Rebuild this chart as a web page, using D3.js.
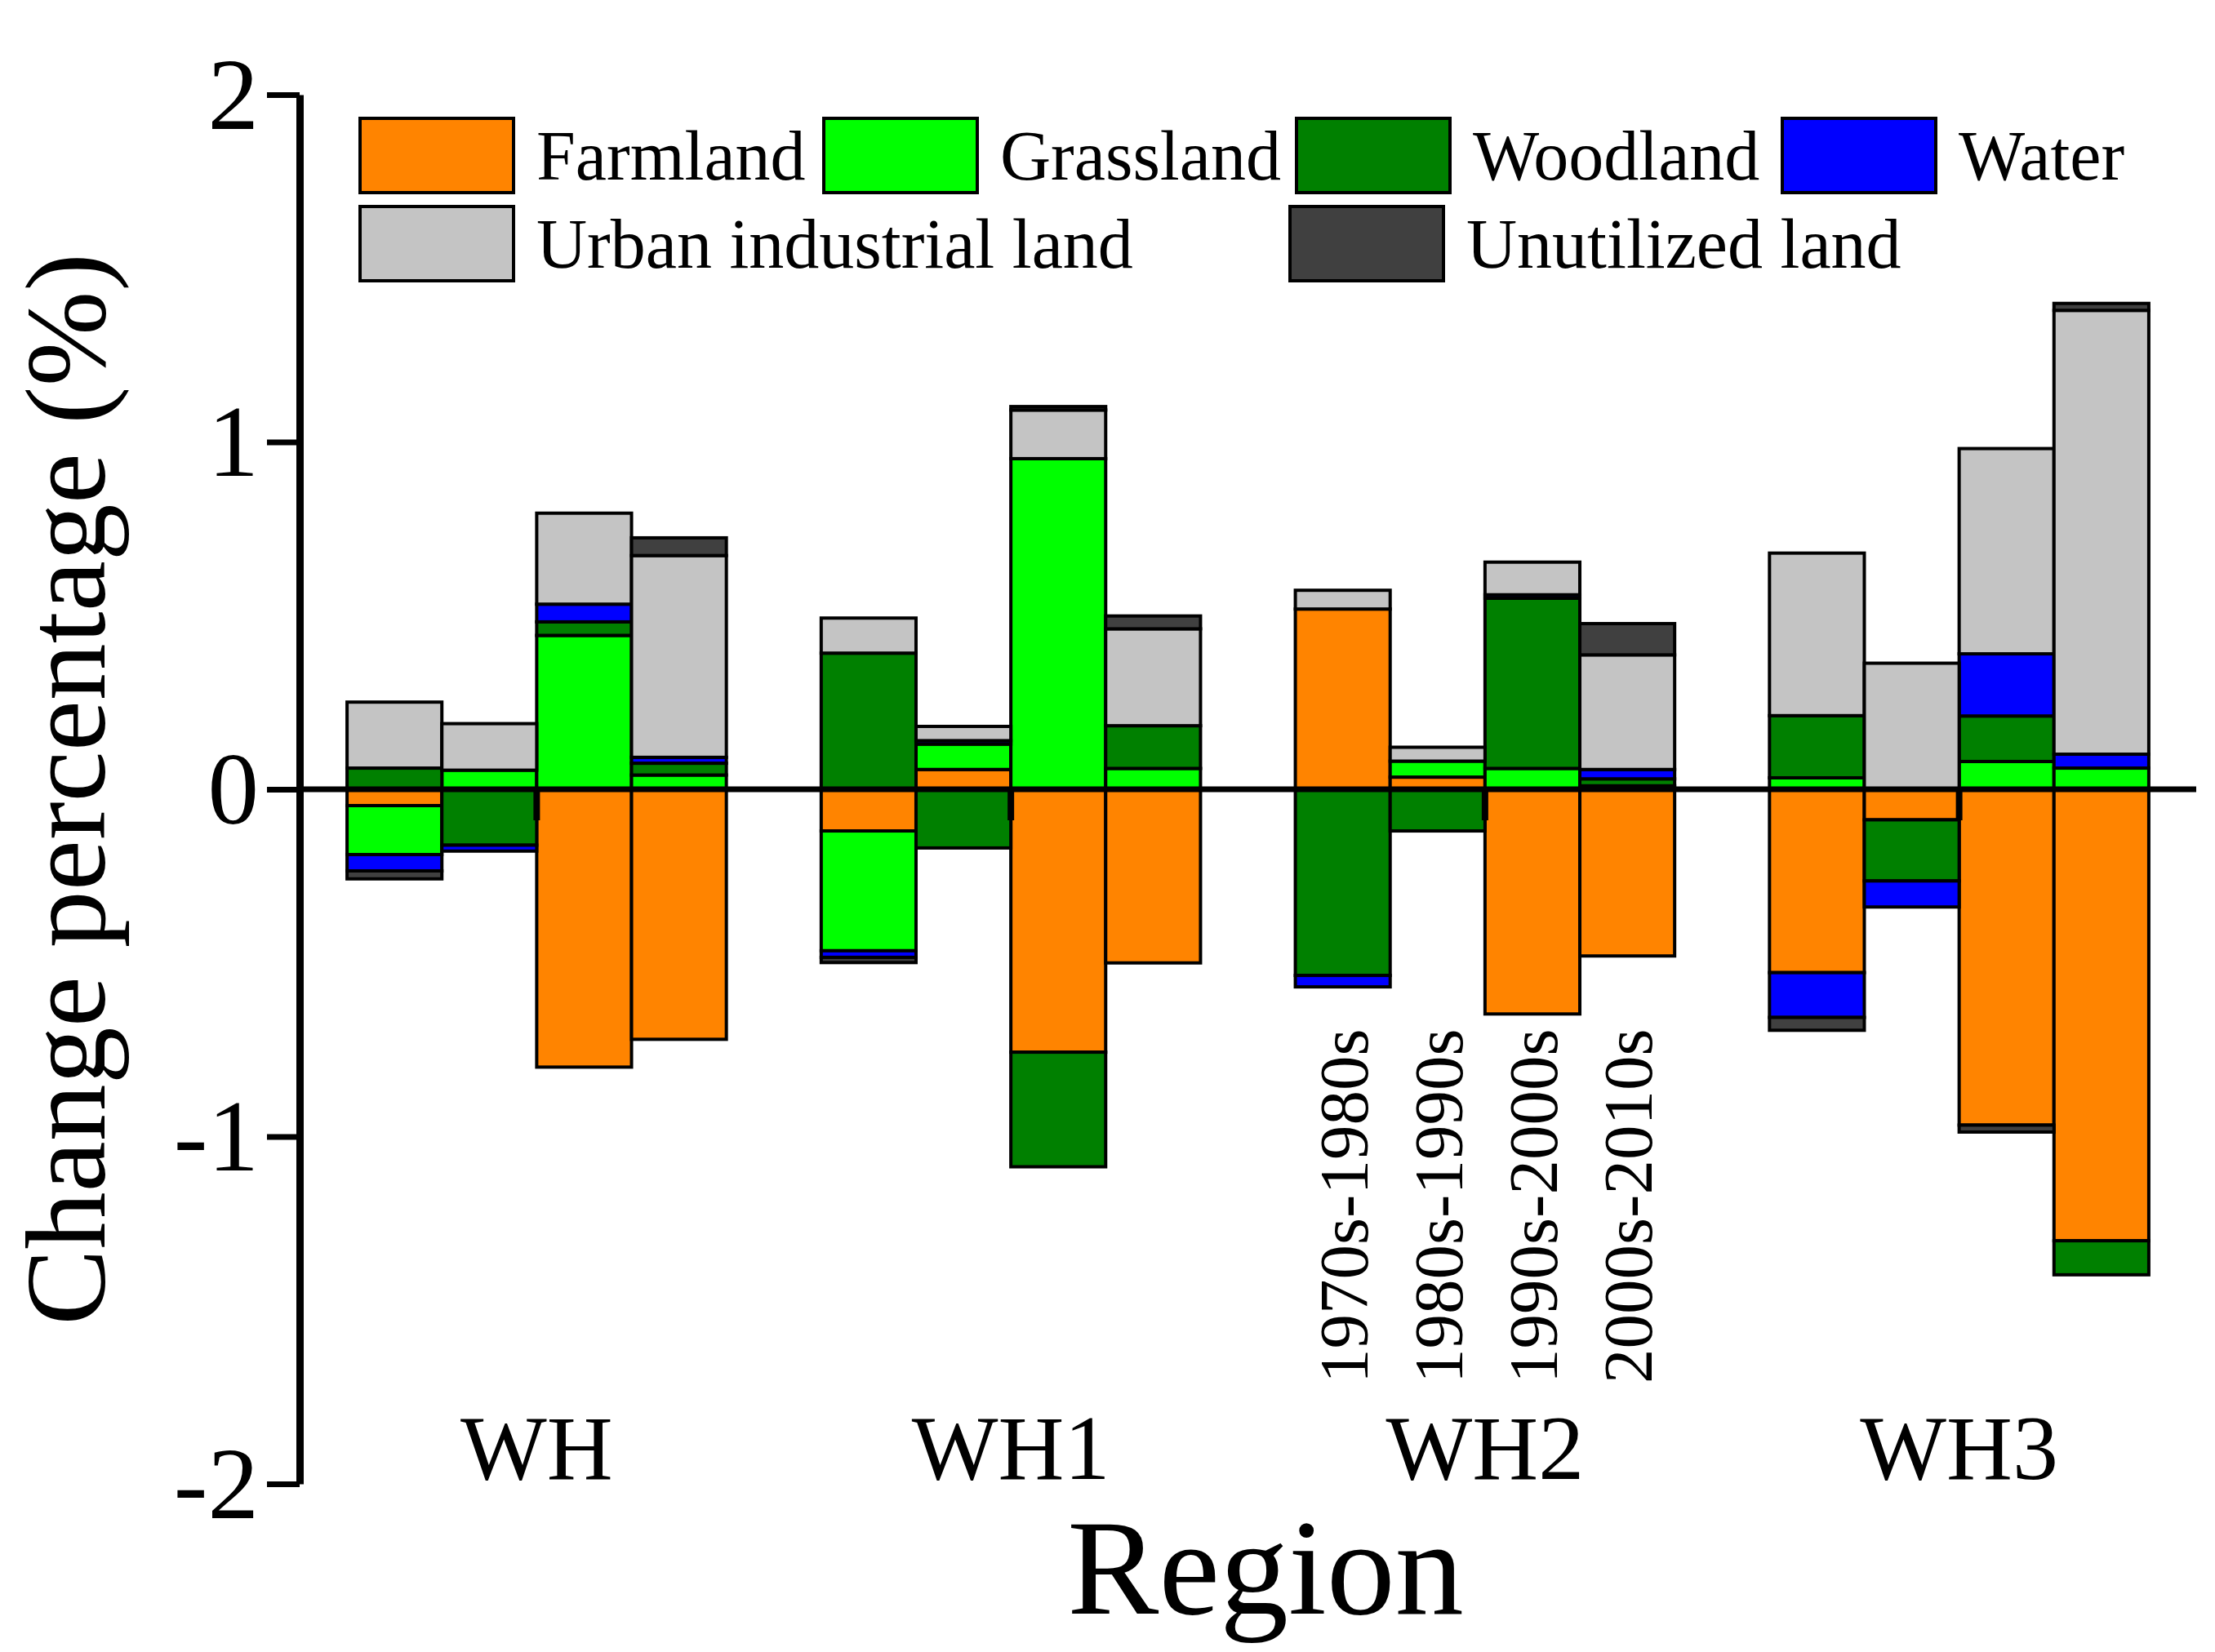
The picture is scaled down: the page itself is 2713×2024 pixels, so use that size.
<!DOCTYPE html>
<html>
<head>
<meta charset="utf-8">
<script src="https://cdn.jsdelivr.net/npm/d3@7"></script>
<style>
  html, body { margin: 0; padding: 0; background: #fff; }
  svg { display: block; }
  text { font-family: "Liberation Serif", "Times New Roman", serif; fill: #000; }
</style>
</head>
<body>
<svg id="chart" width="2713" height="2024"></svg>
<script>
// ---------------- DATA ----------------
const regions = ["WH", "WH1", "WH2", "WH3"];
const periods = ["1970s-1980s", "1980s-1990s", "1990s-2000s", "2000s-2010s"];
const landTypes = ["Farmland", "Grassland", "Woodland", "Water", "Urban industrial land", "Unutilized land"];
const yTicks = [-2, -1, 0, 1, 2];

// values ordered: WH(4 periods), WH1(4), WH2(4), WH3(4)
const farmland   = [-0.047, 0,      -0.80, -0.72,   -0.12,  0.057, -0.757, -0.50,   0.519, 0.035, -0.647, -0.48,   -0.528, -0.088, -0.967, -1.30];
const grassland  = [-0.141, 0.055,  0.443, 0.041,   -0.345, 0.073,  0.952,  0.060,  0,     0.046,  0.060,  0.010,  0.033,  0,      0.080,  0.061];
const woodland   = [0.061, -0.161,  0.039, 0.034,   0.392, -0.169, -0.330,  0.123,  -0.536, -0.120, 0.490,  0.020,  0.179, -0.176,  0.131, -0.098];
const water      = [-0.047, -0.017, 0.051, 0.017,   -0.019, 0.010,  0,      0,      -0.033, 0,      0.010,  0.027,  -0.129, -0.075, 0.179,  0.040];
const urban      = [0.190, 0.134,   0.262, 0.581,   0.101, 0.041,   0.140,  0.279,  0.054, 0.040,   0.094,  0.330,  0.468, 0.363,   0.591,  1.278];
const unutilized = [-0.023, 0,      0,     0.051,   -0.015, 0,      0.010,  0.037,  0,     0,       0,      0.090,  -0.037, 0,      -0.020, 0.020];

const seriesValues = [farmland, grassland, woodland, water, urban, unutilized];
const colors = ["#FF8400", "#00FF00", "#008000", "#0000FF", "#C4C4C4", "#404040"];

// ---------------- LAYOUT ----------------
const svg = d3.select("#chart");
const xLeft = 367, xRight = 2690, yTop = 116, yBottom = 1818;

const x0 = d3.scaleBand().domain(regions).range([xLeft, xRight]).paddingInner(0.2).paddingOuter(0.1);
const x1 = d3.scaleBand().domain(periods).range([0, x0.bandwidth()]).padding(0);
const y = d3.scaleLinear().domain([-2, 2]).range([yBottom, yTop]);

// table for stacking
const rows = [];
regions.forEach((r, ri) => {
  periods.forEach((p, pi) => {
    const row = { region: r, period: p };
    landTypes.forEach((k, ki) => { row[k] = seriesValues[ki][ri * periods.length + pi]; });
    rows.push(row);
  });
});

const stack = d3.stack().keys(landTypes).offset(d3.stackOffsetDiverging);
const stacked = stack(rows);

const barsG = svg.append("g");
stacked.forEach((layer, li) => {
  barsG.append("g")
    .attr("fill", colors[li])
    .selectAll("rect")
    .data(layer.filter(d => Math.abs(d[1] - d[0]) > 1e-9))
    .join("rect")
    .attr("x", d => x0(d.data.region) + x1(d.data.period))
    .attr("width", x1.bandwidth())
    .attr("y", d => y(Math.max(d[0], d[1])))
    .attr("height", d => Math.abs(y(d[0]) - y(d[1])))
    .attr("stroke", "#000")
    .attr("stroke-width", 4);
});

// zero line
svg.append("line")
  .attr("x1", xLeft).attr("x2", xRight)
  .attr("y1", y(0)).attr("y2", y(0))
  .attr("stroke", "#000").attr("stroke-width", 7);

// small ticks at group centers
svg.append("g").selectAll("line")
  .data(regions)
  .join("line")
  .attr("x1", d => x0(d) + x0.bandwidth() / 2)
  .attr("x2", d => x0(d) + x0.bandwidth() / 2)
  .attr("y1", y(0))
  .attr("y2", y(0) + 38)
  .attr("stroke", "#000").attr("stroke-width", 8);

// y axis
const yAxis = d3.axisLeft(y)
  .tickValues(yTicks)
  .tickFormat(d => String(d))
  .tickSize(40)
  .tickSizeOuter(0)
  .tickPadding(10);
const yAxisG = svg.append("g").attr("transform", `translate(${xLeft},0)`).call(yAxis);
yAxisG.select(".domain").attr("stroke", "#000").attr("stroke-width", 9);
yAxisG.selectAll(".tick line").attr("stroke", "#000").attr("stroke-width", 7);
yAxisG.selectAll(".tick text")
  .attr("font-family", "Liberation Serif, Times New Roman, serif")
  .attr("font-size", 125)
  .attr("fill", "#000")
  .attr("dy", "0.33em");

// region labels
svg.append("g").selectAll("text")
  .data(regions)
  .join("text")
  .attr("x", d => x0(d) + x0.bandwidth() / 2)
  .attr("y", 1812)
  .attr("text-anchor", "middle")
  .attr("font-size", 112)
  .text(d => d);

// period labels (under WH2 only)
svg.append("g").selectAll("text")
  .data(periods)
  .join("text")
  .attr("transform", d => `translate(${x0("WH2") + x1(d) + x1.bandwidth() / 2 + 30},1695) rotate(-90)`)
  .attr("text-anchor", "start")
  .attr("font-size", 85)
  .text(d => d);

// axis titles
svg.append("text")
  .attr("transform", `translate(128,${(yTop + yBottom) / 2}) rotate(-90)`)
  .attr("text-anchor", "middle")
  .attr("font-size", 140)
  .text("Change percentage (%)");

svg.append("text")
  .attr("x", 1550)
  .attr("y", 1977)
  .attr("text-anchor", "middle")
  .attr("font-size", 168)
  .text("Region");

// legend
const legendPos = [[441, 145], [1009, 145], [1588, 145], [2183, 145], [441, 253], [1580, 253]];
const legend = svg.append("g").selectAll("g")
  .data(landTypes)
  .join("g")
  .attr("transform", (d, i) => `translate(${legendPos[i][0]},${legendPos[i][1]})`);
legend.append("rect")
  .attr("width", 188).attr("height", 91)
  .attr("fill", (d, i) => colors[i])
  .attr("stroke", "#000").attr("stroke-width", 4);
legend.append("text")
  .attr("x", 216)
  .attr("y", 75)
  .attr("font-size", 86)
  .text(d => d);
</script>
</body>
</html>
